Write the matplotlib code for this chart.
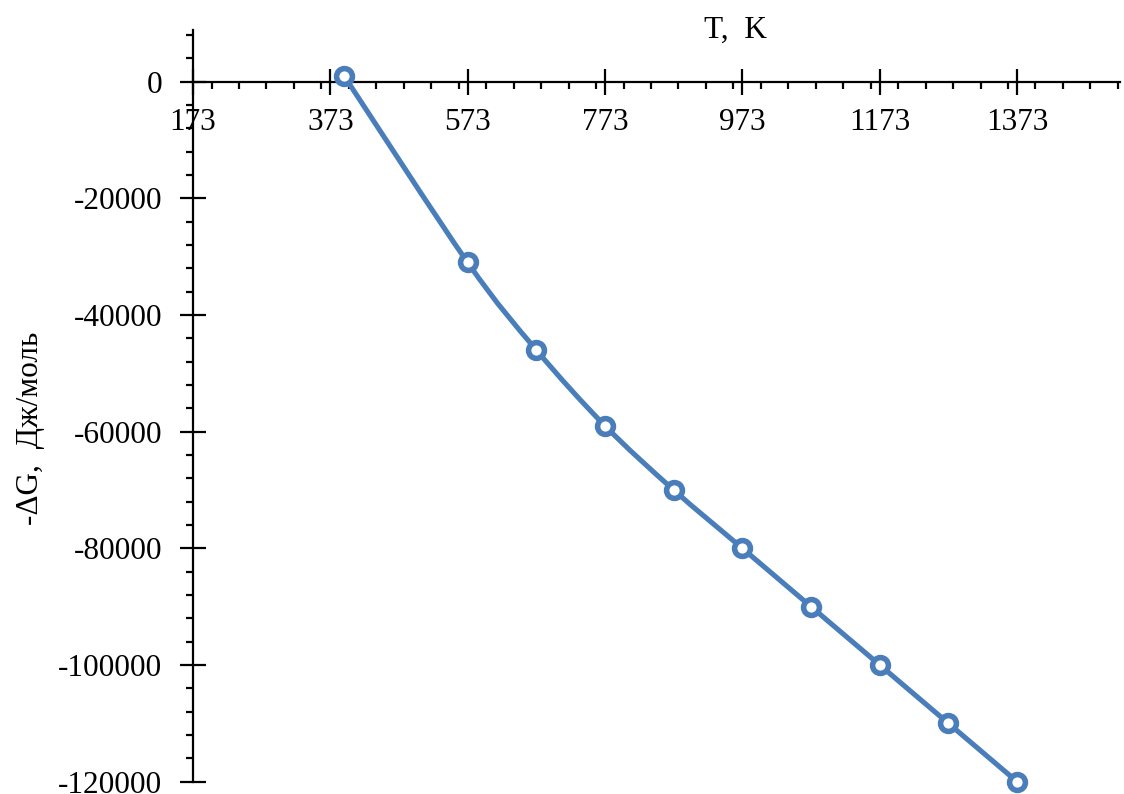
import matplotlib
matplotlib.use("Agg")
import matplotlib.pyplot as plt
from matplotlib.path import Path
from matplotlib.patches import PathPatch
from matplotlib.ticker import MultipleLocator
import numpy as np

plt.rcParams['font.family'] = ['Liberation Serif', 'DejaVu Serif']

# data
T = [393, 573, 673, 773, 873, 973, 1073, 1173, 1273, 1373]
dG = [1000, -31000, -46000, -59000, -70000, -80000, -90000, -100000, -110000, -120000]
x_ticks = [173, 373, 573, 773, 973, 1173, 1373]
y_ticks = [-120000, -100000, -80000, -60000, -40000, -20000, 0]

blue = '#4A7EBB'
fs = 22.5

fig = plt.figure(figsize=(11.24, 7.94), dpi=100)
ax = fig.add_axes([0.1717, 0.0157, 0.8247, 0.9465])

ax.set_xlim(173, 1523)
ax.set_ylim(-120000, 8860)

# smoothed line like Excel (catmull-rom as bezier segments)
pts = np.column_stack([T, dG]).astype(float)
verts = [pts[0]]
codes = [Path.MOVETO]
for i in range(len(pts) - 1):
    p0 = pts[i - 1] if i > 0 else pts[i]
    p1 = pts[i]
    p2 = pts[i + 1]
    p3 = pts[i + 2] if i + 2 < len(pts) else pts[i + 1]
    c1 = p1 + (p2 - p0) / 6.0
    c2 = p2 - (p3 - p1) / 6.0
    verts += [c1, c2, p2]
    codes += [Path.CURVE4] * 3
ax.add_patch(PathPatch(Path(verts, codes), facecolor='none', edgecolor=blue,
                       lw=3.7, capstyle='round', joinstyle='round', zorder=3))
ax.plot(T, dG, linestyle='none', marker='o', ms=11.4, mfc='white', mec=blue,
        mew=4.0, zorder=4, clip_on=False)

# axes like the spreadsheet chart
for s in ['top', 'right']:
    ax.spines[s].set_visible(False)
ax.spines['bottom'].set_position(('data', 0))
for s in ['left', 'bottom']:
    ax.spines[s].set_linewidth(1.6)

ax.set_xticks(x_ticks)
ax.set_yticks(y_ticks)
ax.xaxis.set_minor_locator(MultipleLocator(40))
ax.yaxis.set_minor_locator(MultipleLocator(4000))
ax.tick_params(which='major', direction='inout', length=19, width=1.6,
               labelsize=fs)
ax.tick_params(which='minor', direction='out', length=5, width=1.6)
ax.tick_params(axis='x', which='major', pad=9.5)
ax.tick_params(axis='y', which='major', pad=12.5)
ax.set_yticklabels([str(v) for v in y_ticks])

fig.text(735 / 1124, 1 - 30 / 794, 'T,  K', fontsize=fs, ha='center', va='center')
fig.text(31 / 1124, 1 - 428 / 794, '-ΔG,  Дж/моль', fontsize=fs, rotation=90,
         ha='center', va='center')

fig.savefig('out.png', dpi=100)
